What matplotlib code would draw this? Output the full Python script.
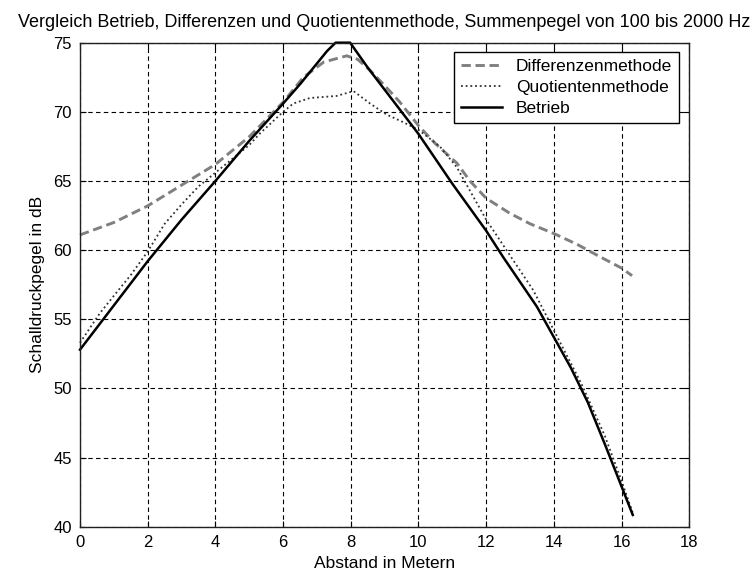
import matplotlib
matplotlib.use("Agg")
import matplotlib.pyplot as plt

plt.rcParams['font.family'] = ['Liberation Sans', 'DejaVu Sans']

# Betrieb (solid)
x_betrieb = [0, 1, 2, 3, 4, 5, 6, 6.5, 7, 7.3, 7.55, 7.98, 8.5, 9, 9.5, 10,
             10.5, 11, 11.5, 12, 12.5, 13, 13.5, 14, 14.5, 15, 15.5, 16, 16.33]
y_betrieb = [52.8, 56.0, 59.2, 62.2, 65.0, 67.9, 70.6, 72.0, 73.5, 74.4, 75.0, 75.0,
             73.2, 71.6, 70.0, 68.4, 66.6, 64.8, 63.1, 61.4, 59.5, 57.7, 55.9, 53.7,
             51.5, 49.0, 46.0, 42.9, 40.85]

# Differenzenmethode (dashed)
x_diff = [0, 1, 2, 3, 4, 5, 6, 6.6, 7.2, 7.88, 8.2, 8.57, 9, 9.45, 10, 10.5,
          11.13, 11.52, 12, 12.7, 13.3, 14, 14.7, 15.3, 16, 16.31]
y_diff = [61.1, 62.0, 63.2, 64.7, 66.2, 68.2, 70.7, 72.5, 73.6, 74.05, 73.8, 73.0,
          71.9, 70.7, 69.0, 67.7, 66.3, 65.0, 63.75, 62.66, 61.9, 61.2, 60.4, 59.6,
          58.7, 58.15]

# Quotientenmethode (dotted)
x_quot = [0, 0.59, 1, 1.5, 2, 2.5, 3, 3.5, 4, 4.5, 5, 5.32, 6, 6.3, 6.79, 7.58,
          8.08, 8.57, 9.06, 9.55, 10, 10.63, 11.13, 12, 13.39, 14, 14.82, 15.5,
          16, 16.33]
y_quot = [53.3, 55.45, 56.7, 58.2, 59.9, 61.9, 63.3, 64.6, 65.6, 66.6, 67.6, 68.45,
          70.0, 70.6, 71.0, 71.15, 71.5, 70.6, 69.8, 69.25, 68.7, 67.5, 66.0, 62.2,
          57.1, 54.2, 50.3, 46.6, 43.3, 41.0]

x_ticks = [0, 2, 4, 6, 8, 10, 12, 14, 16, 18]
y_ticks = [40, 45, 50, 55, 60, 65, 70, 75]

title = "Vergleich Betrieb, Differenzen und Quotientenmethode, Summenpegel von 100 bis 2000 Hz"

W, H = 754, 577
fig = plt.figure(figsize=(W / 100, H / 100), dpi=100)
l, r, t, b = 80, 689.3, 42.7, 526.7
ax = fig.add_axes([l / W, 1 - b / H, (r - l) / W, (b - t) / H])

ax.plot(x_diff, y_diff, color='#808080', lw=2.1, ls=(0, (3.2, 1.6)),
        label='Differenzenmethode', clip_on=False)
ax.plot(x_quot, y_quot, color='#303030', lw=1.3, ls=(0, (1, 1.6)),
        label='Quotientenmethode', clip_on=False)
ax.plot(x_betrieb, y_betrieb, color='black', lw=1.8, label='Betrieb',
        clip_on=False)

ax.set_xlim(0, 18)
ax.set_ylim(40, 75)
ax.set_xticks(x_ticks)
ax.set_yticks(y_ticks)
ax.grid(True, color='black', lw=0.8, ls=(0, (4, 3)))
ax.tick_params(direction='in', top=True, right=True, length=4, width=0.8,
               labelsize=12, pad=6, colors='black')
for s in ax.spines.values():
    s.set_linewidth(1.0)
    s.set_color('#202020')

ax.set_title(title, fontsize=13, pad=11)
ax.set_xlabel('Abstand in Metern', fontsize=12.5, labelpad=4)
ax.set_ylabel('Schalldruckpegel in dB', fontsize=12.5, labelpad=6)

leg = ax.legend(loc='upper right', bbox_to_anchor=(0.9836, 0.9814), borderaxespad=0,
                fancybox=False, framealpha=1, edgecolor='black', fontsize=12.5,
                handlelength=2.4, handletextpad=0.8, labelspacing=0.35,
                borderpad=0.4)
leg.get_frame().set_linewidth(1.0)

fig.savefig('out.png', dpi=100)
